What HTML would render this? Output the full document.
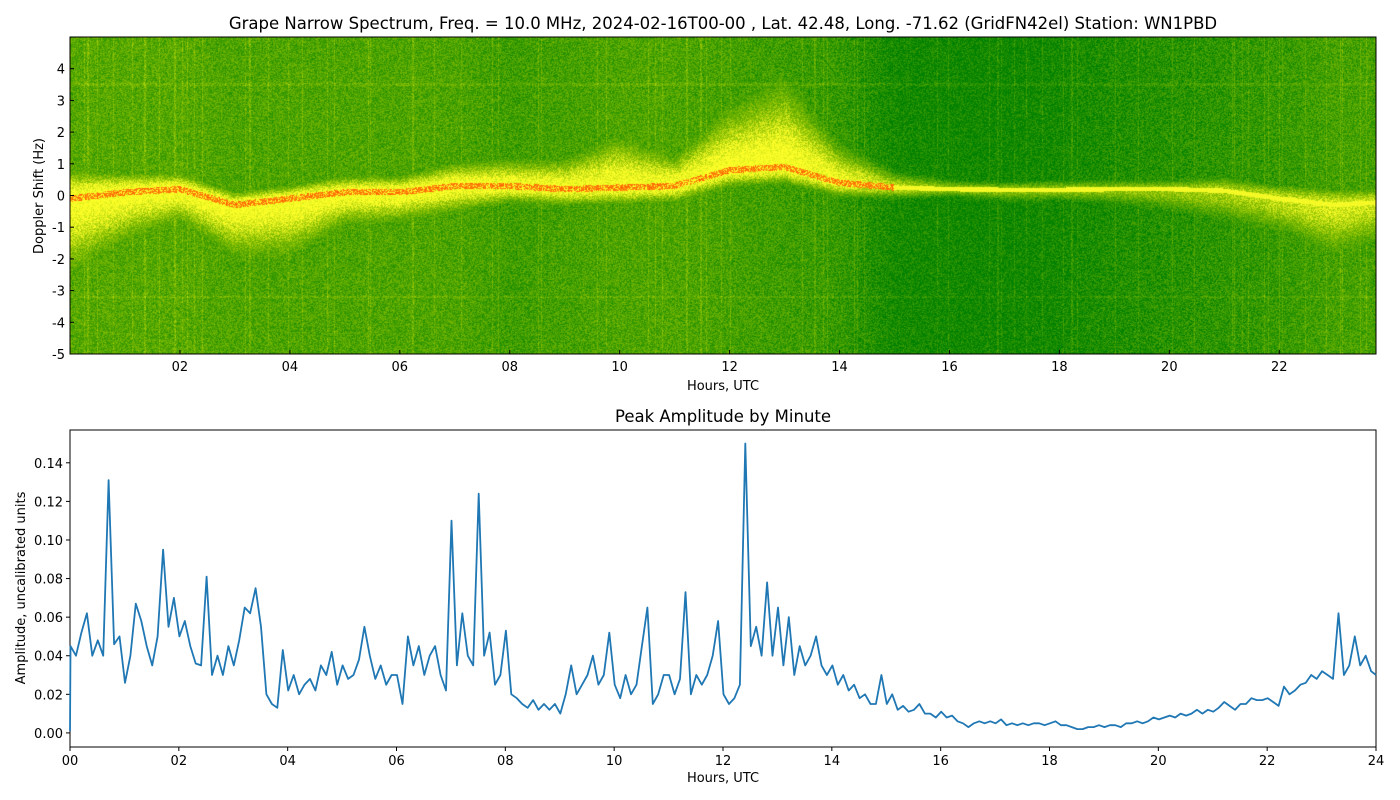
<!DOCTYPE html>
<html><head><meta charset="utf-8">
<style>
body{margin:0;background:#fff;width:1400px;height:800px;overflow:hidden;font-family:"Liberation Sans","DejaVu Sans",sans-serif;}
#wrap{position:relative;width:1400px;height:800px;}
#spec{position:absolute;left:70px;top:37px;}
svg{position:absolute;left:0;top:0;}
text{font-family:"DejaVu Sans","Liberation Sans",sans-serif;fill:#000;}
</style></head>
<body>
<div id="wrap">
<canvas id="spec" width="1306" height="317"></canvas>
<svg id="svg" width="1400" height="800"></svg>
</div>
<script>
// ---- Spectrogram data (per hour 0..24) ----
const specHours=[0,1,2,3,4,5,6,7,8,9,10,11,12,13,14,15,16,17,18,19,20,21,22,23,24];
const centerHz=[-0.1,0.1,0.2,-0.3,-0.1,0.1,0.1,0.3,0.3,0.2,0.25,0.3,0.8,0.9,0.4,0.25,0.2,0.18,0.18,0.2,0.2,0.15,-0.1,-0.3,-0.2];
const spreadUp=[0.9,0.6,0.5,0.4,0.4,0.5,0.5,0.7,0.8,0.9,1.6,0.9,1.9,2.6,1.1,0.4,0.25,0.2,0.25,0.25,0.25,0.4,0.4,0.5,0.4];
const spreadDown=[2.4,1.5,1.0,1.6,1.8,1.0,0.9,0.8,0.5,0.5,0.5,0.5,0.5,0.5,0.4,0.3,0.2,0.3,0.3,0.4,0.6,0.9,1.0,1.5,1.2];
const bandAmp=[0.9,0.9,0.9,0.9,0.9,0.9,0.9,0.9,0.88,0.88,0.88,0.88,0.9,0.9,0.85,0.7,0.55,0.55,0.55,0.55,0.58,0.62,0.7,0.75,0.7];
const bgLevel=[0.55,0.55,0.55,0.5,0.5,0.5,0.5,0.5,0.4,0.45,0.5,0.5,0.45,0.4,0.35,0.12,0.1,0.08,0.12,0.2,0.25,0.3,0.35,0.45,0.45];
const specYTicks=[-5,-4,-3,-2,-1,0,1,2,3,4];
const specXTicks=["02","04","06","08","10","12","14","16","18","20","22"];
// ---- Amplitude data (every 0.1 h) ----
const ampValues=[
.045,.040,.052,.062,.040,.048,.040,.131,.046,.050,
.026,.040,.067,.058,.045,.035,.050,.095,.055,.070,
.050,.058,.045,.036,.035,.081,.030,.040,.030,.045,
.035,.048,.065,.062,.075,.055,.020,.015,.013,.043,
.022,.030,.020,.025,.028,.022,.035,.030,.042,.025,
.035,.028,.030,.038,.055,.040,.028,.035,.025,.030,
.030,.015,.050,.035,.045,.030,.040,.045,.030,.022,
.110,.035,.062,.040,.035,.124,.040,.052,.025,.030,
.053,.020,.018,.015,.013,.017,.012,.015,.012,.015,
.010,.020,.035,.020,.025,.030,.040,.025,.030,.052,
.025,.018,.030,.020,.025,.045,.065,.015,.020,.030,
.030,.020,.028,.073,.020,.030,.025,.030,.040,.058,
.020,.015,.018,.025,.150,.045,.055,.040,.078,.040,
.065,.035,.060,.030,.045,.035,.040,.050,.035,.030,
.035,.025,.030,.022,.025,.018,.020,.015,.015,.030,
.015,.020,.012,.014,.011,.012,.015,.010,.010,.008,
.011,.008,.009,.006,.005,.003,.005,.006,.005,.006,
.005,.007,.004,.005,.004,.005,.004,.005,.005,.004,
.005,.006,.004,.004,.003,.002,.002,.003,.003,.004,
.003,.004,.004,.003,.005,.005,.006,.005,.006,.008,
.007,.008,.009,.008,.010,.009,.010,.012,.010,.012,
.011,.013,.016,.014,.012,.015,.015,.018,.017,.017,
.018,.016,.014,.024,.020,.022,.025,.026,.030,.028,
.032,.030,.028,.062,.030,.035,.050,.035,.040,.032,.030];
const ampStep=0.1;
const ampYTicks=["0.00","0.02","0.04","0.06","0.08","0.10","0.12","0.14"];
const ampXTicks=["00","02","04","06","08","10","12","14","16","18","20","22","24"];

const NS="http://www.w3.org/2000/svg";
const svg=document.getElementById('svg');
function mk(tag,attrs,name,parent){const e=document.createElementNS(NS,tag);for(const k in attrs)e.setAttribute(k,attrs[k]);


(parent||svg).appendChild(e);return e;}
function txt(s,x,y,anchor,size,name,extra){const t=mk('text',Object.assign({x:x,y:y,'text-anchor':anchor,'font-size':size},extra||{}),name);t.textContent=s;return t;}

const T={x0:70,x1:1376,y0:37,y1:354,h0:0,h1:23.76,d0:-5,d1:5};
const tx=h=>T.x0+(h-T.h0)/(T.h1-T.h0)*(T.x1-T.x0);
const ty=d=>T.y1-(d-T.d0)/(T.d1-T.d0)*(T.y1-T.y0);
const B={x0:70,x1:1376,y0:430,y1:747,h0:0,h1:24,a0:-0.0073,a1:0.157};
const bx=h=>B.x0+(h-B.h0)/(B.h1-B.h0)*(B.x1-B.x0);
const by=a=>B.y1-(a-B.a0)/(B.a1-B.a0)*(B.y1-B.y0);

(function(){
const c=document.getElementById('spec'),ctx=c.getContext('2d');
const W=c.width,H=c.height,img=ctx.createImageData(W,H),d=img.data;
function interp(arr,h){const i=Math.min(Math.floor(h),arr.length-2),f=h-i;return arr[i]*(1-f)+arr[i+1]*f;}
function hash(x,y){let n=x*374761393+y*668265263;n=(n^(n>>13))*1274126177;n=n^(n>>16);return ((n>>>0)%1000)/1000;}
function col(t){t=Math.max(0,Math.min(1,t));
 if(t<0.5){const f=t/0.5;return [Math.round(0+130*f),Math.round(128+60*f),0];}
 if(t<0.85){const f=(t-0.5)/0.35;return [Math.round(130+125*f),Math.round(188+67*f),Math.round(40*f)];}
 const f=(t-0.85)/0.15;return [255,Math.round(255-170*f),Math.round(40-40*f)];}
for(let x=0;x<W;x++){
 const h=T.h0+(x+0.5)/W*(T.h1-T.h0);
 const cen=interp(centerHz,h),up=interp(spreadUp,h),dn=interp(spreadDown,h),bg=interp(bgLevel,h),ba=interp(bandAmp,h);
 const vline=hash(x,7)>0.93?0.12:0;
 for(let y=0;y<H;y++){
  const hz=T.d1-(y+0.5)/H*(T.d1-T.d0);
  const dd=hz-cen, s=dd>0?up:dn;
  const band=Math.exp(-(dd/s)*(dd/s));
  const noise=(hash(x,y)-0.5)*0.35;
  let t=bg*0.6+noise+vline;
  t=Math.max(t, band*ba+noise*0.9);
  t=Math.min(t,0.84);
  if(Math.abs(dd)<0.1 && h<15 && hash(y,x)>0.3) t=0.9+hash(y,x)*0.1;
  else if(Math.abs(dd)<0.07) t=Math.max(t,0.82);
  if(Math.abs(hz-3.5)<0.04 || Math.abs(hz+3.2)<0.04) t+=0.08;
  const c3=col(t),k=(y*W+x)*4;d[k]=c3[0];d[k+1]=c3[1];d[k+2]=c3[2];d[k+3]=255;}
}
ctx.putImageData(img,0,0);
})();

mk('rect',{x:T.x0,y:T.y0,width:T.x1-T.x0,height:T.y1-T.y0,fill:'none',stroke:'#000','stroke-width':1},'spectrum-frame');
specYTicks.forEach(v=>{const y=ty(v);mk('line',{x1:T.x0,x2:T.x0+4,y1:y,y2:y,stroke:'#000'},'spectrum-y-tick');txt(String(v),T.x0-5,y+5,'end',13,'spectrum-y-tick-label');});
specXTicks.forEach(s=>{const x=tx(parseInt(s,10));mk('line',{x1:x,x2:x,y1:T.y1,y2:T.y1-4,stroke:'#000'},'spectrum-x-tick');txt(s,x,T.y1+17,'middle',13,'spectrum-x-tick-label');});
txt('Grape Narrow Spectrum, Freq. = 10.0 MHz, 2024-02-16T00-00 , Lat.  42.48, Long. -71.62 (GridFN42el) Station: WN1PBD',723,29,'middle',16.5,'spectrum-title',{'xml:space':'preserve'});
txt('Hours, UTC',723,390,'middle',13,'spectrum-x-axis-title');
txt('Doppler Shift (Hz)',43,196,'middle',13,'spectrum-y-axis-title',{transform:'rotate(-90 43 196)'});

mk('rect',{x:B.x0,y:B.y0,width:B.x1-B.x0,height:B.y1-B.y0,fill:'none',stroke:'#000','stroke-width':1},'amplitude-frame');
ampYTicks.forEach(s=>{const y=by(parseFloat(s));mk('line',{x1:B.x0-4,x2:B.x0,y1:y,y2:y,stroke:'#000'},'amplitude-y-tick');txt(s,B.x0-7,y+5,'end',13,'amplitude-y-tick-label');});
ampXTicks.forEach(s=>{const x=bx(parseInt(s,10));mk('line',{x1:x,x2:x,y1:B.y1,y2:B.y1+4,stroke:'#000'},'amplitude-x-tick');txt(s,x,B.y1+18,'middle',13,'amplitude-x-tick-label');});
txt('Peak Amplitude by Minute',723,422,'middle',16.5,'amplitude-title');
txt('Hours, UTC',723,782,'middle',13,'amplitude-x-axis-title');
txt('Amplitude, uncalibrated units',25,588,'middle',13,'amplitude-y-axis-title',{transform:'rotate(-90 25 588)'});
let dstr='M'+bx(0).toFixed(1)+','+by(0.001).toFixed(1);
ampValues.forEach((v,i)=>{dstr+=' L'+bx(Math.min(i*ampStep+0.01,24)).toFixed(1)+','+by(v).toFixed(1);});
mk('path',{d:dstr,fill:'none',stroke:'#1f77b4','stroke-width':1.8,'stroke-linejoin':'round'},'amplitude-line');
</script>
</body></html>
